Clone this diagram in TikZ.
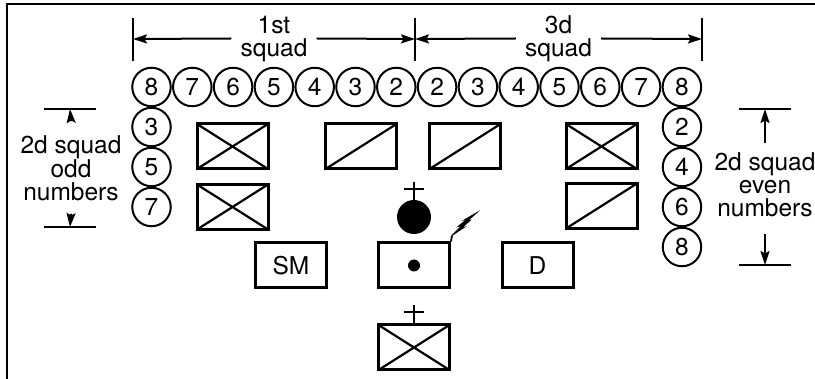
\documentclass[tikz,border=0pt]{standalone}
\usepackage{fontspec}
\setmainfont{TeX Gyre Heros}
\usetikzlibrary{arrows.meta}
\begin{document}
\begin{tikzpicture}[x=1pt, y=-1pt,
    num/.style={circle, draw, line width=2pt, minimum size=38.5pt, inner sep=0pt, font=\fontsize{24.5}{24}\selectfont},
    veh/.style={draw, line width=3pt, minimum width=71pt, minimum height=45pt, inner sep=0pt, font=\fontsize{24.5}{24}\selectfont},
    cruz/.style={veh, path picture={\draw[line width=2.2pt] (path picture bounding box.south west) -- (path picture bounding box.north east)
        (path picture bounding box.north west) -- (path picture bounding box.south east);}},
    barra/.style={veh, path picture={\draw[line width=2.2pt] (path picture bounding box.south west) -- (path picture bounding box.north east);}},
    lbl/.style={align=center, inner sep=0pt, font=\fontsize{24.5}{23}\selectfont},
    dim/.style={line width=2pt},
    flecha/.style={-{Stealth[length=14pt, width=9pt, inset=2.5pt]}, line width=2pt}]
  \useasboundingbox (0,0) rectangle (815,379);

  % Marco
  \draw[line width=2.2pt] (7,379) -- (7,4) -- (815,4);

  % Fila delantera
  \foreach \n [count=\i from 0] in {8,7,6,5,4,3,2,2,3,4,5,6,7,8}
    \node[num] (f\i) at (151.5+40.8*\i, 87) {\n};

  % Columna izquierda (impares) y derecha (pares)
  \foreach \n [count=\i] in {3,5,7}
    \node[num] (i\i) at (151.5, 87+40*\i) {\n};
  \foreach \n [count=\i] in {2,4,6,8}
    \node[num] (p\i) at (682, 87+40*\i) {\n};

  % Vehiculos
  \node[cruz]  (v1) at (232.5,146.5) {};
  \node[barra] (v2) at (361,146.5) {};
  \node[barra] (v3) at (465,146.5) {};
  \node[cruz]  (v4) at (601.5,146.5) {};
  \node[cruz]  (v5) at (232.5,207) {};
  \node[barra] (v6) at (601.5,206) {};
  \node[veh]   (sm) at (291,265.5) {SM};
  \node[veh]   (pc) at (414,265.5) {};
  \node[veh]   (d)  at (537.5,265.5) {D};
  \node[cruz]  (v7) at (414,347.5) {};
  \fill (pc.center) circle[radius=6pt];

  % Jefe y cruces
  \node[circle, fill, minimum size=34pt, inner sep=0pt] (jefe) at (414,217) {};
  \draw[line width=2pt] (jefe.north) -- ++(0,-18);
  \draw[line width=2pt] (jefe.north) ++(-10,-11) -- ++(20,0);
  \draw[line width=2pt] (v7.north) -- ++(0,-18);
  \draw[line width=2pt] (v7.north) ++(-10.5,-11) -- ++(20,0);

  % Radio
  \draw[line width=1.8pt] (pc.north east) -- ++(1,-6) coordinate (rb);
  \filldraw[line width=0.8pt, line join=miter] (rb) -- ++(10,-10) -- ++(-4,1) -- ++(10,-8) -- ++(-3,1) -- ++(12,-7)
    -- ++(-10,9) -- ++(3,-1) -- ++(-9,8) -- ++(3,-1) -- cycle;

  % Cotas superiores
  \coordinate (m0) at (133,39);
  \coordinate (m1) at (415,39);
  \coordinate (m2) at (702,39);
  \foreach \m in {m0,m1,m2}
    \draw[dim] (\m) ++(0,-21) -- ++(0,43);
  \node[lbl, inner xsep=9pt] (sq1) at (274,38.5) {1st\\squad};
  \node[lbl, inner xsep=9pt] (sq3) at (558.5,38.5) {3d\\squad};
  \draw[flecha] (sq1.west) -- (m0);
  \draw[flecha] (sq1.east) -- (m1);
  \draw[flecha] (sq3.west) -- (m1);
  \draw[flecha] (sq3.east) -- (m2);

  % Cotas laterales
  \coordinate (o0) at (70,109);
  \coordinate (o1) at (70,227);
  \coordinate (e0) at (765,109);
  \coordinate (e1) at (765,265);
  \foreach \m in {o0,o1,e0,e1}
    \draw[dim] (\m) ++(-26,0) -- ++(52,0);
  \node[lbl] (sq2i) at (71,168) {2d squad\\odd\\numbers};
  \node[lbl] (sq2p) at (765,184.7) {2d squad\\even\\numbers};
  \draw[flecha] ([yshift=14pt]sq2i.north) -- (o0);
  \draw[flecha] ([yshift=-13pt]sq2i.south) -- (o1);
  \draw[flecha] ([yshift=9pt]sq2p.north) -- (e0);
  \draw[flecha] ([yshift=-17pt]sq2p.south) -- (e1);
\end{tikzpicture}
\end{document}
